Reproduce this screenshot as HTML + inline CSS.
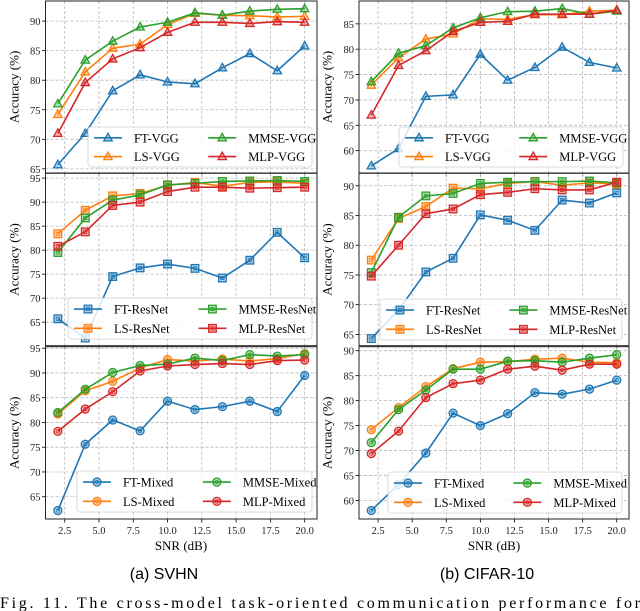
<!DOCTYPE html>
<html><head><meta charset="utf-8">
<style>
html,body{margin:0;padding:0;background:#fff;}
svg{display:block;}
text{font-family:"Liberation Serif","Times New Roman",serif;}
</style></head>
<body>
<svg id="fig" width="640" height="611" viewBox="0 0 640 611" xmlns="http://www.w3.org/2000/svg">
<text x="181" y="550" font-size="13" text-anchor="middle">SNR (dB)</text>
<text x="494" y="550" font-size="13" text-anchor="middle">SNR (dB)</text>
<text x="164" y="579" font-size="16" text-anchor="middle" style="font-family:'Liberation Sans',sans-serif">(a) SVHN</text>
<text x="487" y="579" font-size="16" text-anchor="middle" style="font-family:'Liberation Sans',sans-serif">(b) CIFAR-10</text>
<text x="0" y="608" font-size="16" textLength="640" lengthAdjust="spacing">Fig. 11. The cross-model task-oriented communication performance for</text>
</svg>
<script>
const snr = [2,4,6,8,10,12,14,16,18,20];
const seriesNames = ['FT','LS','MMSE','MLP'];
const colors = ['#1f77b4','#ff7f0e','#2ca02c','#d62728'];
// SVHN VGG
const svhnVggFT   = [65.7,71.0,78.2,80.9,79.7,79.4,82.1,84.5,81.6,85.8];
const svhnVggLS   = [74.2,81.4,85.4,86.1,89.4,91.3,91.0,90.9,90.7,90.8];
const svhnVggMMSE = [76.0,83.4,86.6,89.0,89.8,91.4,91.0,91.7,92.0,92.1];
const svhnVggMLP  = [71.0,79.6,83.6,85.5,88.1,89.8,89.8,89.6,89.9,89.8];
// CIFAR VGG
const cifVggFT   = [57.0,60.4,70.7,71.0,79.0,73.9,76.4,80.4,77.4,76.3];
const cifVggLS   = [72.9,78.3,82.0,83.0,86.0,85.9,86.8,86.8,87.5,87.7];
const cifVggMMSE = [73.6,79.2,80.7,84.2,86.2,87.4,87.5,88.0,86.9,87.5];
const cifVggMLP  = [67.0,76.8,79.7,83.5,85.3,85.5,86.9,86.9,86.9,87.7];
// SVHN ResNet
const svhnResFT   = [65.7,61.7,74.5,76.3,77.1,76.2,74.2,77.9,83.7,78.4];
const svhnResLS   = [83.4,88.3,91.3,91.8,93.5,94.1,93.3,94.1,94.2,93.9];
const svhnResMMSE = [79.5,86.7,90.4,91.5,93.6,93.9,94.3,94.4,94.5,94.3];
const svhnResMLP  = [80.8,83.8,89.3,90.0,92.2,93.1,93.1,92.9,93.0,93.1];
// CIFAR ResNet
const cifResFT   = [64.3,69.1,75.5,77.8,85.1,84.2,82.5,87.6,87.1,88.8];
const cifResLS   = [77.5,84.5,86.5,89.6,89.5,90.4,90.7,90.1,90.5,90.3];
const cifResMMSE = [75.4,84.7,88.3,88.7,90.4,90.6,90.7,90.7,90.8,90.5];
const cifResMLP  = [74.8,80.0,85.3,86.1,88.5,88.9,89.5,89.3,89.3,90.6];
// SVHN Mixed
const svhnMixFT   = [62.2,75.6,80.5,78.3,84.3,82.6,83.2,84.3,82.2,89.5];
const svhnMixLS   = [81.7,86.4,88.3,91.0,92.7,92.4,92.8,92.4,92.9,93.9];
const svhnMixMMSE = [82.0,86.7,90.1,91.5,91.8,93.0,92.5,93.7,93.4,93.7];
const svhnMixMLP  = [78.2,82.7,86.2,90.4,91.4,91.7,91.9,91.7,92.5,92.6];
// CIFAR Mixed
const cifMixFT   = [58.0,63.2,69.5,77.5,75.0,77.4,81.6,81.3,82.3,84.1];
const cifMixLS   = [74.2,78.6,82.8,86.4,87.7,87.8,88.3,88.5,87.7,87.6];
const cifMixMMSE = [71.6,78.2,82.1,86.3,86.3,87.9,88.0,87.7,88.5,89.2];
const cifMixMLP  = [69.4,73.9,80.6,83.4,84.1,86.3,86.9,86.1,87.3,87.3];
const xTicks = [2.5,5.0,7.5,10.0,12.5,15.0,17.5,20.0];
const yTicksTL = [65,70,75,80,85,90];
const yTicksTR = [60,65,70,75,80,85];
const yTicksML = [65,70,75,80,85,90,95];
const yTicksMR = [65,70,75,80,85,90];
const yTicksBL = [65,70,75,80,85,90,95];
const yTicksBR = [60,65,70,75,80,85,90];

const NS='http://www.w3.org/2000/svg';
const svg=document.getElementById('fig');
function mk(tag,attrs,parent){const e=document.createElementNS(NS,tag);for(const k in attrs)e.setAttribute(k,attrs[k]);(parent||svg).appendChild(e);return e;}

const panels=[
 {id:'svhn-vgg',L:45.5,R:317,T:1,B:173,ymin:64.3,ymax:93.4,ticks:yTicksTL,series:[svhnVggFT,svhnVggLS,svhnVggMMSE,svhnVggMLP],suf:'VGG',mk:'tri',xl:false,lg:[88,127,312,167],ylab:14},
 {id:'cifar-vgg',L:359,R:629,T:1,B:173,ymin:55.6,ymax:89.5,ticks:yTicksTR,series:[cifVggFT,cifVggLS,cifVggMMSE,cifVggMLP],suf:'VGG',mk:'tri',xl:false,lg:[399,127,623,167],ylab:327},
 {id:'svhn-resnet',L:45.5,R:317,T:173.3,B:345.7,ymin:60.1,ymax:96,ticks:yTicksML,series:[svhnResFT,svhnResLS,svhnResMMSE,svhnResMLP],suf:'ResNet',mk:'sq',xl:false,lg:[68,298,312,339],ylab:14},
 {id:'cifar-resnet',L:359,R:629,T:173.3,B:345.7,ymin:63.1,ymax:92.1,ticks:yTicksMR,series:[cifResFT,cifResLS,cifResMMSE,cifResMLP],suf:'ResNet',mk:'sq',xl:false,lg:[380,299,622,340],ylab:327},
 {id:'svhn-mixed',L:45.5,R:317,T:346.7,B:519,ymin:60.5,ymax:95.3,ticks:yTicksBL,series:[svhnMixFT,svhnMixLS,svhnMixMMSE,svhnMixMLP],suf:'Mixed',mk:'circ',xl:true,lg:[77,471,312,512],ylab:14},
 {id:'cifar-mixed',L:359,R:629,T:346.7,B:519,ymin:56.3,ymax:90.8,ticks:yTicksBR,series:[cifMixFT,cifMixLS,cifMixMMSE,cifMixMLP],suf:'Mixed',mk:'circ',xl:true,lg:[388,472,622,513],ylab:327},
];

function marker(g,type,cx,cy,col){
  let m;
  if(type==='tri'){
    m=mk('polygon',{points:`${cx},${cy-4.5} ${cx-4.2},${cy+3} ${cx+4.2},${cy+3}`,fill:col,'fill-opacity':0.35,stroke:col,'stroke-width':1.3},g);
  } else if(type==='sq'){
    m=mk('rect',{x:cx-3.8,y:cy-3.8,width:7.6,height:7.6,fill:col,'fill-opacity':0.35,stroke:col,'stroke-width':1.3},g);
    mk('rect',{x:cx-1.6,y:cy-1.6,width:3.2,height:3.2,fill:'none',stroke:col,'stroke-width':0.8},g);
  } else {
    m=mk('circle',{cx:cx,cy:cy,r:4,fill:col,'fill-opacity':0.35,stroke:col,'stroke-width':1.3},g);
    mk('circle',{cx:cx,cy:cy,r:1.7,fill:'none',stroke:col,'stroke-width':0.8},g);
  }
  return m;
}

panels.forEach(p=>{
  const g=mk('g',{});
  
  
  const xs=v=>p.L+(v-1.1)/(20.9-1.1)*(p.R-p.L);
  const ys=v=>p.B-(v-p.ymin)/(p.ymax-p.ymin)*(p.B-p.T);
  xTicks.forEach(t=>{
    const l=mk('line',{x1:xs(t),x2:xs(t),y1:p.T,y2:p.B,stroke:'#b8b8b8','stroke-width':0.8,'stroke-dasharray':'3,2'},g);
    
    
    mk('line',{x1:xs(t),x2:xs(t),y1:p.B,y2:p.B+3.5,stroke:'#000','stroke-width':0.8},g);
    if(p.xl){
      const tx=mk('text',{x:xs(t),y:p.B+15,'font-size':10.5,'text-anchor':'middle',fill:'#222'},g);
      tx.textContent=t.toFixed(1);
      
      
    }
  });
  p.ticks.forEach(t=>{
    const y=ys(t);
    const l=mk('line',{x1:p.L,x2:p.R,y1:y,y2:y,stroke:'#b8b8b8','stroke-width':0.8,'stroke-dasharray':'3,2'},g);
    
    
    mk('line',{x1:p.L-3.5,x2:p.L,y1:y,y2:y,stroke:'#000','stroke-width':0.8},g);
    const tx=mk('text',{x:p.L-5,y:y+4,'font-size':10.5,'text-anchor':'end',fill:'#222'},g);
    tx.textContent=t;
    
    
  });
  const yl=mk('text',{x:p.ylab,y:(p.T+p.B)/2,'font-size':13,'text-anchor':'middle',transform:`rotate(-90 ${p.ylab} ${(p.T+p.B)/2})`,'dominant-baseline':'central'},g);
  yl.textContent='Accuracy (%)';
  
  
  p.series.forEach((vals,si)=>{
    const sg=mk('g',{},g);
    
    
    const pts=vals.map((v,i)=>xs(snr[i])+','+ys(v)).join(' ');
    const pl=mk('polyline',{points:pts,fill:'none',stroke:colors[si],'stroke-width':1.6},sg);
    
    
    vals.forEach((v,i)=>{
      const m=marker(sg,p.mk,xs(snr[i]),ys(v),colors[si]);
      
      
    });
  });
  const [lx,ly,rx,by]=p.lg;
  const lg=mk('g',{},g);
  
  
  mk('rect',{x:lx,y:ly,width:rx-lx,height:by-ly,rx:3,fill:'#fff','fill-opacity':0.82,stroke:'#d0d0d0','stroke-width':0.8},lg);
  const w=rx-lx, h=by-ly;
  const order=[[0,0],[1,0],[2,1],[3,1]];
  order.forEach(([si,col])=>{
    const row=(si%2);
    const cx0=lx+6+col*w*0.51;
    const cy=ly+h*0.27+row*h*0.47;
    const eg=mk('g',{},lg);
    
    
    mk('line',{x1:cx0,x2:cx0+28,y1:cy,y2:cy,stroke:colors[si],'stroke-width':1.6},eg);
    marker(eg,p.mk,cx0+14,cy,colors[si]);
    const t=mk('text',{x:cx0+40,y:cy+4.5,'font-size':12.5},eg);
    t.textContent=seriesNames[si]+'-'+p.suf;
  });
  const fr=mk('rect',{x:p.L,y:p.T,width:p.R-p.L,height:p.B-p.T,fill:'none',stroke:'#222','stroke-width':1},g);
  
  
});
</script>
</body></html>
